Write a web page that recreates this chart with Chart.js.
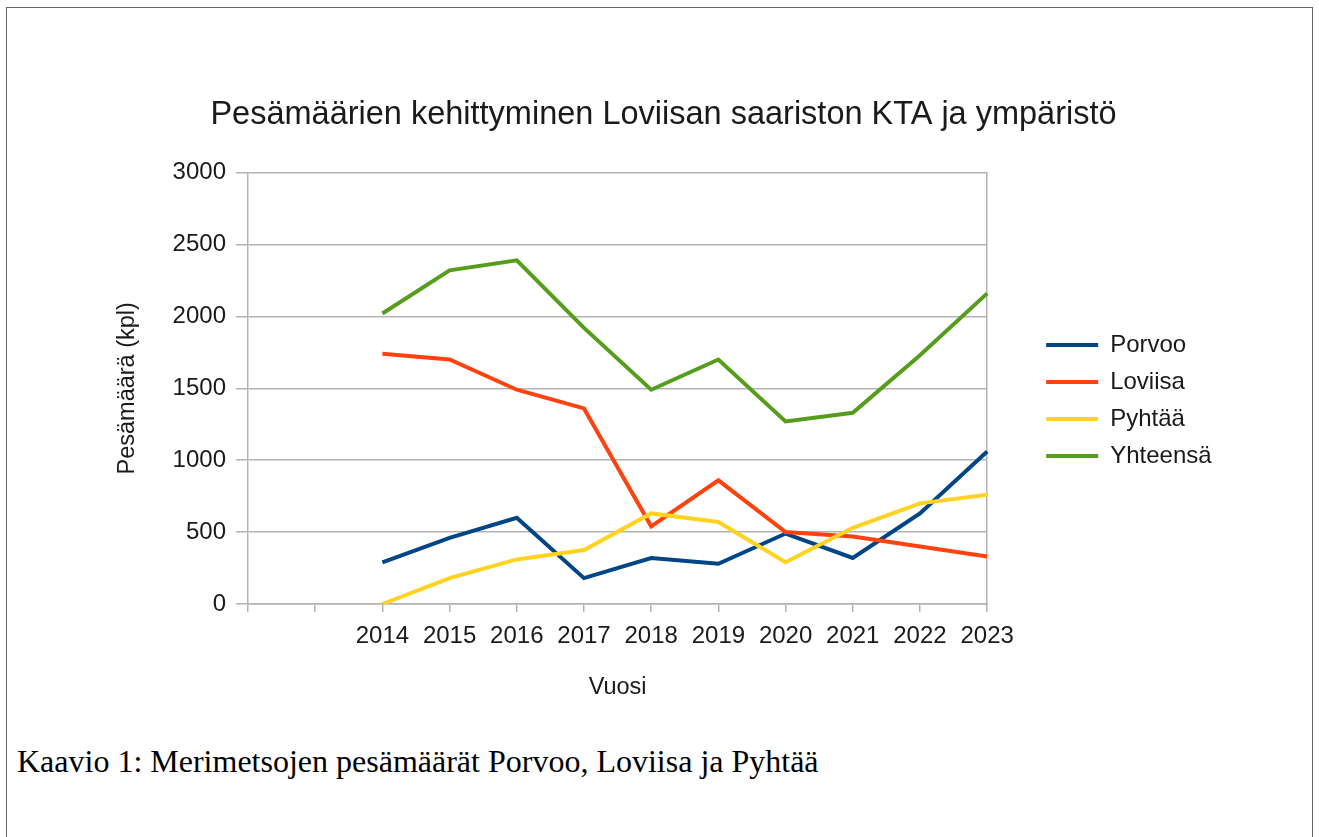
<!DOCTYPE html>
<html lang="fi">
<head>
<meta charset="utf-8">
<title>Pesämäärien kehittyminen</title>
<script src="https://cdn.jsdelivr.net/npm/chart.js@4.4.1/dist/chart.umd.min.js"></script>
<style>
    html, body { margin: 0; padding: 0; background: #fff; overflow: hidden; }
    .frame {
        position: absolute; left: 6px; top: 7px; width: 1307px; height: 860px;
        border: 1px solid #666; box-sizing: border-box;
    }
    .chart-wrap { position: absolute; left: 0; top: 0; width: 1319px; height: 720px; }
    .caption {
        position: absolute; left: 17px; top: 745px;
        font-family: "Liberation Serif", serif; font-size: 32px; line-height: 32px; color: #000;
        white-space: nowrap;
    }
</style>
</head>
<body>
<div class="frame"></div>
<div class="chart-wrap"><canvas id="nestChart"></canvas></div>
<div class="caption">Kaavio 1: Merimetsojen pesämäärät Porvoo, Loviisa ja Pyhtää</div>

<script>
// Data
const spacerCategories = ['', ''];
const years = ['2014', '2015', '2016', '2017', '2018', '2019', '2020', '2021', '2022', '2023'];
const porvoo = [290, 460, 600, 180, 320, 280, 490, 320, 630, 1060];
const loviisa = [1740, 1700, 1490, 1360, 540, 860, 500, 470, 400, 330];
const pyhtaa = [0, 180, 310, 375, 630, 570, 290, 530, 700, 760];
const yhteensa = [2020, 2320, 2390, 1920, 1490, 1700, 1270, 1330, 1730, 2160];
const yTicks = [0, 500, 1000, 1500, 2000, 2500, 3000];
const yTickLabels = ['0', '500', '1000', '1500', '2000', '2500', '3000'];

const gridColor = '#b3b3b3';
const textColor = '#1a1a1a';
const fontFamily = '"Liberation Sans", Arial, sans-serif';

// two empty slots before 2014, like in the original
const pad = spacerCategories.map(() => null);

function series(label, values, color, order) {
    return {
        label: label,
        data: pad.concat(values),
        borderColor: color,
        backgroundColor: color,
        borderWidth: 4,
        pointRadius: 0,
        pointHoverRadius: 0,
        tension: 0,
        fill: false,
        order: order
    };
}

document.addEventListener('DOMContentLoaded', () => {
    const ctx = document.getElementById('nestChart').getContext('2d');

    new Chart(ctx, {
        type: 'line',
        data: {
            labels: spacerCategories.concat(years),
            datasets: [
                series('Porvoo', porvoo, '#004586', 4),
                series('Loviisa', loviisa, '#ff420e', 3),
                series('Pyhtää', pyhtaa, '#ffd320', 2),
                series('Yhteensä', yhteensa, '#579d1c', 1)
            ]
        },
        options: {
            responsive: true,
            maintainAspectRatio: false,
            animation: false,
            layout: {
                padding: { top: 95, left: 109, right: 101, bottom: 14 }
            },
            plugins: {
                title: {
                    display: true,
                    text: 'Pesämäärien kehittyminen Loviisan saariston KTA ja ympäristö',
                    color: textColor,
                    font: { family: fontFamily, size: 32.5, weight: 'normal' },
                    padding: { top: 1, bottom: 37.6 }
                },
                legend: {
                    position: 'right',
                    align: 'center',
                    fullSize: true,
                    labels: {
                        color: textColor,
                        font: { family: fontFamily, size: 24 },
                        boxWidth: 52,
                        boxHeight: 4,
                        padding: 13,
                        sort: (a, b) => a.datasetIndex - b.datasetIndex,
                        generateLabels: (chart) =>
                            Chart.defaults.plugins.legend.labels.generateLabels(chart).map(item => ({
                                ...item,
                                fillStyle: item.strokeStyle,
                                lineWidth: 0
                            }))
                    }
                },
                tooltip: { enabled: false }
            },
            scales: {
                x: {
                    offset: false,
                    grid: {
                        display: true,
                        drawOnChartArea: false,
                        drawTicks: true,
                        tickLength: 8,
                        color: gridColor,
                        lineWidth: 1.5
                    },
                    border: { color: gridColor, width: 1.5 },
                    ticks: {
                        autoSkip: false,
                        maxRotation: 0,
                        padding: 10,
                        color: textColor,
                        font: { family: fontFamily, size: 24 }
                    },
                    title: {
                        display: true,
                        text: 'Vuosi',
                        color: textColor,
                        font: { family: fontFamily, size: 23.5 },
                        padding: { top: 4, bottom: 4 }
                    },
                    afterFit: (scale) => { scale.height = 102; }
                },
                y: {
                    min: 0,
                    max: 3000,
                    afterBuildTicks: (scale) => {
                        scale.ticks = yTicks.map(v => ({ value: v }));
                    },
                    grid: {
                        color: gridColor,
                        lineWidth: 1.5,
                        tickLength: 12
                    },
                    border: { color: gridColor, width: 1.5 },
                    ticks: {
                        padding: 10,
                        color: textColor,
                        font: { family: fontFamily, size: 24 },
                        callback: (value) => {
                            const i = yTicks.indexOf(value);
                            return i >= 0 ? yTickLabels[i] : '';
                        }
                    },
                    title: {
                        display: true,
                        text: 'Pesämäärä (kpl)',
                        color: textColor,
                        font: { family: fontFamily, size: 23.5 },
                        padding: { top: 4, bottom: 4 }
                    },
                    afterFit: (scale) => { scale.width = 139; }
                },
                // empty axis on the right: gives the plot its right edge and the gap to the legend
                yRight: {
                    position: 'right',
                    min: 0,
                    max: 3000,
                    grid: { display: true, drawOnChartArea: false, drawTicks: false },
                    border: { display: true, color: gridColor, width: 1.5 },
                    ticks: { display: false },
                    afterFit: (scale) => { scale.width = 46; }
                }
            }
        }
    });
});
</script>
</body>
</html>
